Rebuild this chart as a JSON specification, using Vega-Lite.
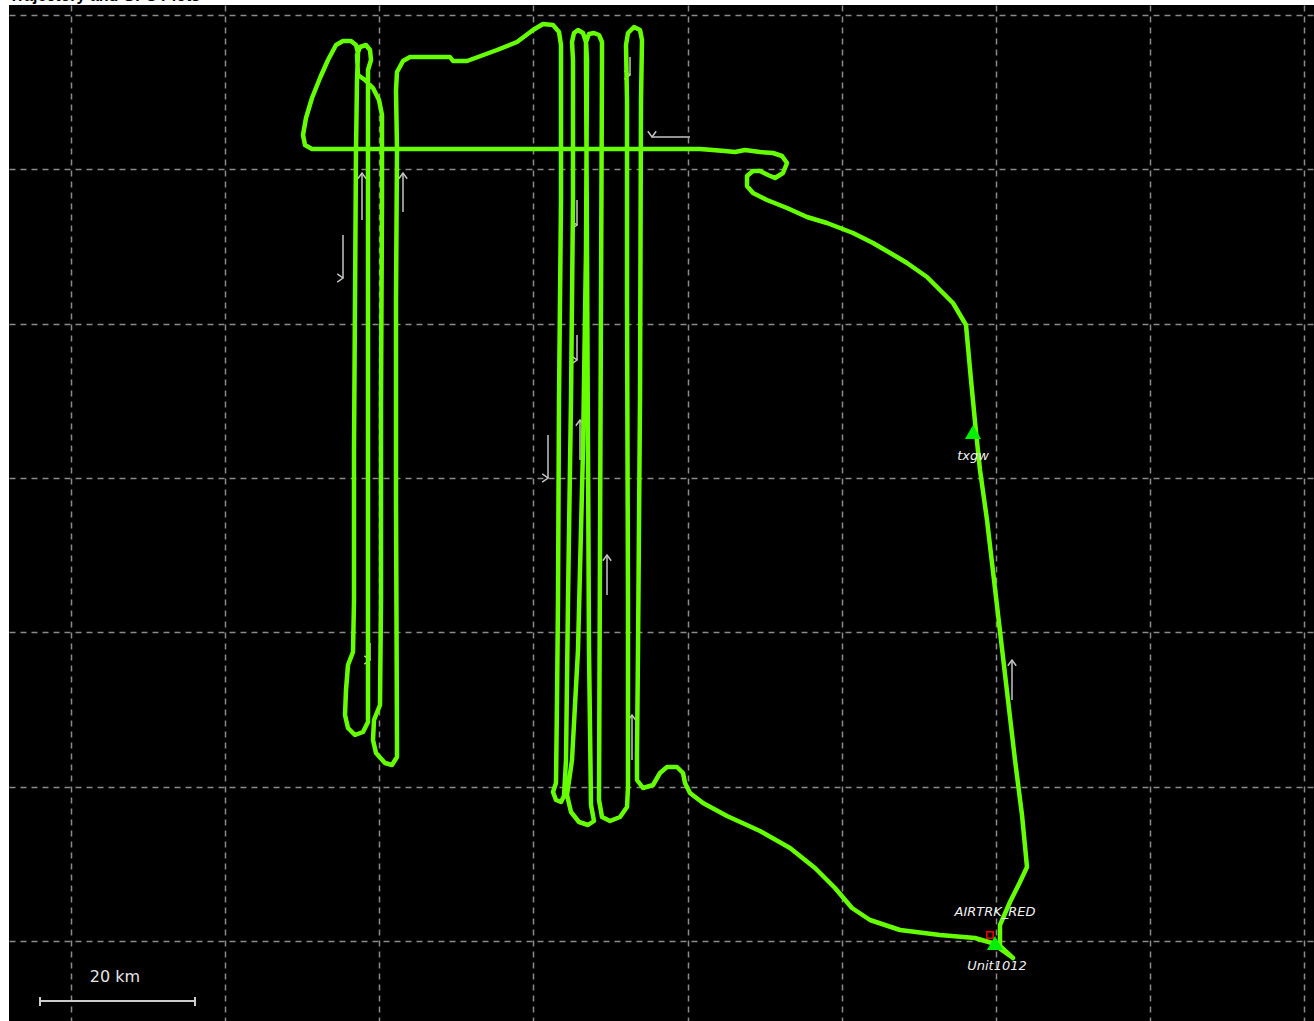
{
  "$schema": "https://vega.github.io/schema/vega-lite/v6.json",
  "autosize": {"type": "none"},
  "width": 1305,
  "height": 1016,
  "padding": {"left": 9, "top": 5, "right": 0, "bottom": 0},
  "background": "white",
  "title": {"text": "Trajectory and GPS Plots", "anchor": "start", "fontSize": 16, "fontWeight": "bold", "font": "Liberation Sans", "color": "black", "offset": 0, "baseline": "alphabetic", "dy": 12},
  "config": {
    "view": {"fill": "black", "stroke": null},
    "axis": {"domain": false, "ticks": false, "labels": false, "title": null, "grid": true, "gridColor": "#8a8a8a", "gridDash": [6, 5], "gridWidth": 1.5, "gridOpacity": 1}
  },
  "datasets": {
    "track": [
      {"east": 942, "north": -17}, {"east": 929, "north": -5}, {"east": 929, "north": 16}, {"east": 939, "north": 39},
      {"east": 949, "north": 59}, {"east": 956, "north": 74}, {"east": 951, "north": 126}, {"east": 944, "north": 181},
      {"east": 937, "north": 241}, {"east": 930, "north": 301}, {"east": 923, "north": 361}, {"east": 916, "north": 421},
      {"east": 909, "north": 471}, {"east": 905, "north": 509}, {"east": 900, "north": 561}, {"east": 895, "north": 616},
      {"east": 882, "north": 638}, {"east": 869, "north": 651}, {"east": 856, "north": 664}, {"east": 836, "north": 678},
      {"east": 826, "north": 684}, {"east": 802, "north": 698}, {"east": 782, "north": 708}, {"east": 769, "north": 713},
      {"east": 756, "north": 718}, {"east": 736, "north": 724}, {"east": 716, "north": 733}, {"east": 696, "north": 741},
      {"east": 682, "north": 748}, {"east": 676, "north": 755}, {"east": 676, "north": 765}, {"east": 682, "north": 770},
      {"east": 689, "north": 770}, {"east": 697, "north": 766}, {"east": 704, "north": 763}, {"east": 712, "north": 768},
      {"east": 716, "north": 778}, {"east": 711, "north": 785}, {"east": 702, "north": 788}, {"east": 689, "north": 789},
      {"east": 674, "north": 791}, {"east": 664, "north": 789}, {"east": 654, "north": 790}, {"east": 629, "north": 792},
      {"east": 529, "north": 792}, {"east": 379, "north": 792}, {"east": 241, "north": 792}, {"east": 234, "north": 796},
      {"east": 232, "north": 806}, {"east": 235, "north": 823}, {"east": 241, "north": 843}, {"east": 249, "north": 863},
      {"east": 257, "north": 881}, {"east": 265, "north": 896}, {"east": 272, "north": 900}, {"east": 280, "north": 900},
      {"east": 285, "north": 896}, {"east": 287, "north": 888}, {"east": 286, "north": 861}, {"east": 285, "north": 791},
      {"east": 284, "north": 641}, {"east": 283, "north": 491}, {"east": 283, "north": 341}, {"east": 282, "north": 289},
      {"east": 277, "north": 276}, {"east": 275, "north": 251}, {"east": 274, "north": 226}, {"east": 277, "north": 213},
      {"east": 284, "north": 206}, {"east": 292, "north": 209}, {"east": 297, "north": 219}, {"east": 297, "north": 291},
      {"east": 297, "north": 441}, {"east": 297, "north": 641}, {"east": 297, "north": 821}, {"east": 297, "north": 871},
      {"east": 300, "north": 881}, {"east": 299, "north": 891}, {"east": 295, "north": 896}, {"east": 289, "north": 894},
      {"east": 286, "north": 886}, {"east": 287, "north": 866}, {"east": 294, "north": 861}, {"east": 302, "north": 853},
      {"east": 308, "north": 841}, {"east": 311, "north": 826}, {"east": 311, "north": 741}, {"east": 310, "north": 541},
      {"east": 310, "north": 341}, {"east": 309, "north": 236}, {"east": 303, "north": 221}, {"east": 302, "north": 201},
      {"east": 305, "north": 188}, {"east": 314, "north": 178}, {"east": 321, "north": 176}, {"east": 326, "north": 184},
      {"east": 326, "north": 196}, {"east": 325, "north": 441}, {"east": 325, "north": 641}, {"east": 326, "north": 791},
      {"east": 325, "north": 851}, {"east": 326, "north": 869}, {"east": 332, "north": 880}, {"east": 339, "north": 884},
      {"east": 379, "north": 884}, {"east": 382, "north": 880}, {"east": 396, "north": 880}, {"east": 407, "north": 884},
      {"east": 426, "north": 891}, {"east": 446, "north": 899}, {"east": 462, "north": 911}, {"east": 472, "north": 917},
      {"east": 482, "north": 916}, {"east": 488, "north": 909}, {"east": 490, "north": 896}, {"east": 490, "north": 741},
      {"east": 488, "north": 541}, {"east": 487, "north": 341}, {"east": 486, "north": 241}, {"east": 485, "north": 158},
      {"east": 482, "north": 149}, {"east": 485, "north": 141}, {"east": 490, "north": 139}, {"east": 493, "north": 145},
      {"east": 495, "north": 181}, {"east": 497, "north": 341}, {"east": 500, "north": 541}, {"east": 502, "north": 741},
      {"east": 502, "north": 881}, {"east": 501, "north": 899}, {"east": 503, "north": 908}, {"east": 507, "north": 911},
      {"east": 512, "north": 908}, {"east": 515, "north": 899}, {"east": 516, "north": 881}, {"east": 515, "north": 691},
      {"east": 512, "north": 491}, {"east": 507, "north": 291}, {"east": 501, "north": 181}, {"east": 496, "north": 146},
      {"east": 500, "north": 129}, {"east": 508, "north": 119}, {"east": 517, "north": 116}, {"east": 523, "north": 120},
      {"east": 520, "north": 136}, {"east": 518, "north": 291}, {"east": 517, "north": 491}, {"east": 516, "north": 691},
      {"east": 515, "north": 881}, {"east": 515, "north": 899}, {"east": 518, "north": 907}, {"east": 523, "north": 908},
      {"east": 528, "north": 906}, {"east": 531, "north": 899}, {"east": 531, "north": 881}, {"east": 530, "north": 641},
      {"east": 529, "north": 391}, {"east": 528, "north": 141}, {"east": 531, "north": 124}, {"east": 539, "north": 120},
      {"east": 549, "north": 124}, {"east": 556, "north": 134}, {"east": 557, "north": 154}, {"east": 557, "north": 341},
      {"east": 556, "north": 641}, {"east": 556, "north": 841}, {"east": 555, "north": 896}, {"east": 557, "north": 908},
      {"east": 563, "north": 914}, {"east": 569, "north": 911}, {"east": 571, "north": 901}, {"east": 570, "north": 841},
      {"east": 569, "north": 541}, {"east": 567, "north": 291}, {"east": 566, "north": 188}, {"east": 566, "north": 161},
      {"east": 572, "north": 153}, {"east": 582, "north": 156}, {"east": 589, "north": 168}, {"east": 596, "north": 174},
      {"east": 606, "north": 174}, {"east": 612, "north": 168}, {"east": 614, "north": 158}, {"east": 619, "north": 148},
      {"east": 632, "north": 138}, {"east": 656, "north": 125}, {"east": 689, "north": 110}, {"east": 719, "north": 93},
      {"east": 744, "north": 73}, {"east": 764, "north": 53}, {"east": 781, "north": 33}, {"east": 799, "north": 21},
      {"east": 829, "north": 11}, {"east": 869, "north": 6}, {"east": 904, "north": 3}, {"east": 921, "north": -2},
      {"east": 942, "north": -17}
    ],
    "arrows": [
      {"east": 581, "north": 804, "east2": 619, "north2": 804, "heading": "W"},
      {"east": 272, "north": 663, "east2": 272, "north2": 706, "heading": "S"},
      {"east": 291, "north": 768, "east2": 291, "north2": 721, "heading": "N"},
      {"east": 332, "north": 768, "east2": 332, "north2": 729, "heading": "N"},
      {"east": 559, "north": 866, "east2": 559, "north2": 884, "heading": "S"},
      {"east": 506, "north": 716, "east2": 506, "north2": 741, "heading": "S"},
      {"east": 506, "north": 581, "east2": 506, "north2": 606, "heading": "S"},
      {"east": 477, "north": 463, "east2": 477, "north2": 506, "heading": "S"},
      {"east": 509, "north": 521, "east2": 509, "north2": 481, "heading": "N"},
      {"east": 536, "north": 386, "east2": 536, "north2": 346, "heading": "N"},
      {"east": 561, "north": 226, "east2": 561, "north2": 181, "heading": "N"},
      {"east": 941, "north": 281, "east2": 941, "north2": 241, "heading": "N"},
      {"east": 299, "north": 281, "east2": 299, "north2": 298, "heading": "S"}
    ],
    "units": [
      {"east": 924, "north": -2, "label": "Unit1012"},
      {"east": 902, "north": 509, "label": "txgw"}
    ],
    "labels": [
      {"east": 926, "north": -25, "label": "Unit1012"},
      {"east": 902, "north": 485, "label": "txgw"},
      {"east": 924, "north": 29, "label": "AIRTRK_RED"}
    ],
    "scalebar": [
      {"east": -31, "north": -60, "east2": 124, "north2": -60},
      {"east": -31, "north": -56, "east2": -31, "north2": -65},
      {"east": 124, "north": -56, "east2": 124, "north2": -65}
    ],
    "scaletext": [{"east": 44, "north": -36, "label": "20 km"}],
    "ref": [{"east": 919, "north": 6, "label": "AIRTRK_RED"}]
  },
  "encoding": {
    "x": {"field": "east", "type": "quantitative", "scale": {"domain": [-62, 1243], "nice": false, "zero": false}, "axis": {"values": [0, 154.1, 308.3, 462.4, 616.5, 770.6, 924.8, 1078.9, 1233]}},
    "y": {"field": "north", "type": "quantitative", "scale": {"domain": [-80, 936], "nice": false, "zero": false}, "axis": {"values": [0, 154.3, 308.7, 463, 617.3, 771.7, 926]}}
  },
  "layer": [
    {
      "data": {"name": "arrows"},
      "mark": {"type": "rule", "color": "#c4c4c4", "strokeWidth": 1.5},
      "encoding": {"x2": {"field": "east2"}, "y2": {"field": "north2"}}
    },
    {
      "data": {"name": "arrows"},
      "mark": {"type": "point", "shape": "M-0.8,1.1L0,0L0.8,1.1", "filled": false, "stroke": "#c4c4c4", "strokeWidth": 1.5, "size": 110, "opacity": 1},
      "encoding": {"angle": {"field": "heading", "type": "nominal", "scale": {"domain": ["N", "S", "W"], "range": [0, 180, 270]}, "legend": null}}
    },
    {
      "data": {"name": "track"},
      "mark": {"type": "line", "color": "#66ff00", "strokeWidth": 4.5, "strokeJoin": "round", "strokeCap": "round"},
      "encoding": {"order": {"value": null}}
    },
    {
      "data": {"name": "ref"},
      "mark": {"type": "point", "shape": "square", "filled": false, "stroke": "#ff0000", "strokeWidth": 1.5, "size": 40, "opacity": 1}
    },
    {
      "data": {"name": "units"},
      "mark": {"type": "point", "shape": "triangle-up", "filled": true, "fill": "#00f000", "size": 260, "opacity": 1}
    },
    {
      "data": {"name": "labels"},
      "mark": {"type": "text", "font": "DejaVu Sans", "fontStyle": "italic", "fontSize": 13, "color": "#f2f2f2", "align": "center", "baseline": "middle"},
      "encoding": {"text": {"field": "label"}}
    },
    {
      "data": {"name": "scalebar"},
      "mark": {"type": "rule", "color": "#cccccc", "strokeWidth": 2},
      "encoding": {"x2": {"field": "east2"}, "y2": {"field": "north2"}}
    },
    {
      "data": {"name": "scaletext"},
      "mark": {"type": "text", "font": "DejaVu Sans", "fontSize": 16, "color": "#e6e6e6", "align": "center", "baseline": "middle"},
      "encoding": {"text": {"field": "label"}}
    }
  ]
}
